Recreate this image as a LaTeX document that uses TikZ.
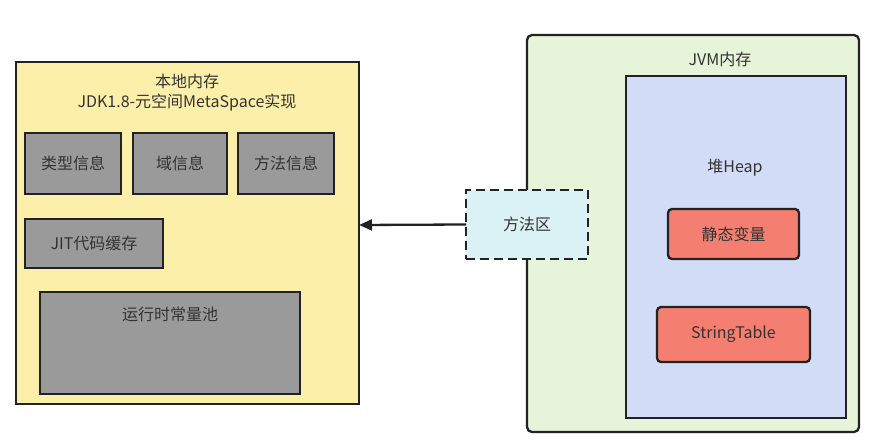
\documentclass[tikz,border=0pt]{standalone}
\usepackage{fontspec}
\setmainfont{Noto Sans CJK SC}
\usetikzlibrary{arrows.meta}
\definecolor{yel}{HTML}{FCEFA9}
\definecolor{gry}{HTML}{9A9A9A}
\definecolor{grn}{HTML}{E6F4D9}
\definecolor{heapc}{HTML}{D3DCF7}
\definecolor{redc}{HTML}{F47F70}
\definecolor{cyanc}{HTML}{DAF2F5}
\definecolor{ln}{HTML}{222222}
\definecolor{txt}{HTML}{333333}
\tikzset{
  boxbase/.style={draw=ln, line width=2.3pt, inner sep=0pt, outer sep=0pt, text=txt, font=\fontsize{16}{19}\selectfont},
  graybox/.style={boxbase, fill=gry},
  redbox/.style={boxbase, fill=redc, rounded corners=4pt},
  lbl/.style={text=txt, font=\fontsize{16}{20}\selectfont, align=center, inner sep=0pt},
}
\begin{document}
\begin{tikzpicture}[x=1pt,y=-1pt]
\useasboundingbox[fill=white] (0,0) rectangle (872,443);
% left: native memory
\draw[boxbase, fill=yel] (16,62) rectangle (359,404);
\node[lbl] (title1) at (187,93) {本地内存\\JDK1.8-元空间MetaSpace实现};
\coordinate (yelR) at (359,225);
\draw[graybox] (25,133) rectangle (121,194) node[lbl, midway] (t1) {类型信息};
\draw[graybox] (133,133) rectangle (227,194) node[lbl, midway] (t2) {域信息};
\draw[graybox] (238,133) rectangle (334,194) node[lbl, midway] (t3) {方法信息};
\draw[graybox] (25,219) rectangle (163,268) node[lbl, midway] (t4) {JIT代码缓存};
\draw[graybox] (40,292) rectangle (300,394);
\node[lbl] (t5) at (170,314) {运行时常量池};
% right: JVM memory
\draw[boxbase, fill=grn, rounded corners=5pt] (527,35) rectangle (859,432);
\node[lbl] (jvm) at (720,59) {JVM内存};
\draw[boxbase, fill=heapc] (626,76) rectangle (846,418);
\node[lbl] (heap) at (735,168) {堆Heap};
\draw[redbox] (668,209) rectangle (799,259) node[lbl, midway] (sv) {静态变量};
\draw[redbox] (657,307) rectangle (810,362) node[lbl, midway] (st) {StringTable};
% method area
\node[boxbase, fill=cyanc, dashed, dash pattern=on 9pt off 5pt, minimum width=122pt, minimum height=69pt] (ma) at (527,224.5) {方法区};
\draw[ln, line width=2.3pt, -{Triangle[length=13pt,width=11pt]}] (ma.west) -- (yelR);
\end{tikzpicture}
\end{document}
